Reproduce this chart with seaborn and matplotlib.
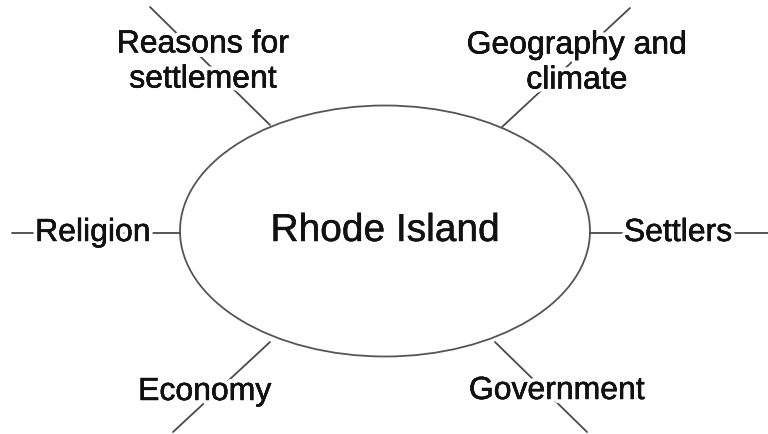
import matplotlib
matplotlib.use("Agg")
import matplotlib.pyplot as plt
import matplotlib.patheffects as pe
from matplotlib.patches import Ellipse
import pandas as pd
import seaborn as sns

sns.set_theme(style="white")
plt.rcParams['font.family'] = ['Liberation Sans', 'DejaVu Sans']

# Concept map content (pixel coordinates of the 768x434 picture)
center_label = "Rhode Island"
center_xy = (385, 231)
ellipse_size = (410, 251)

labels = ["Reasons for\nsettlement", "Geography and\nclimate", "Religion",
          "Settlers", "Economy", "Government"]
label_x = [203, 577, 93, 678, 205, 557]
label_y = [62, 63, 233, 233, 392, 391]

# spoke lines: outer end -> ellipse edge
spoke_x0 = [150, 630, 12, 768, 173, 587]
spoke_y0 = [7, 8, 233, 233, 432, 432]
spoke_x1 = [270, 502, 180, 590, 270, 495]
spoke_y1 = [125, 127, 233, 233, 342, 342]

rows = []
for i, lab in enumerate(labels):
    rows.append({"spoke": lab, "x": spoke_x0[i], "y": spoke_y0[i]})
    rows.append({"spoke": lab, "x": spoke_x1[i], "y": spoke_y1[i]})
spokes = pd.DataFrame(rows)

fig = plt.figure(figsize=(7.68, 4.34), dpi=100)
ax = fig.add_axes([0, 0, 1, 1])

sns.lineplot(data=spokes, x="x", y="y", units="spoke", estimator=None,
             sort=False, color="#4a4a4a", linewidth=1.3, ax=ax, legend=False)

ax.add_patch(Ellipse(center_xy, ellipse_size[0], ellipse_size[1],
                     fill=False, edgecolor="#555555", linewidth=1.3))

# white halo so the spokes break around the glyphs, plus a slight thickening
halo = [pe.withStroke(linewidth=6, foreground="white"),
        pe.withStroke(linewidth=0.35, foreground="#111111")]
for lab, x, y in zip(labels, label_x, label_y):
    ax.text(x, y, lab, ha="center", va="center", fontsize=23, color="#111111",
            linespacing=1.22, path_effects=halo, zorder=5)

ax.text(center_xy[0], center_xy[1], center_label, ha="center", va="center",
        fontsize=28, color="#111111", zorder=5,
        path_effects=[pe.withStroke(linewidth=0.35, foreground="#111111")])

ax.set_xlim(0, 768)
ax.set_ylim(434, 0)
ax.set_axis_off()

fig.savefig("out.png", dpi=100)
